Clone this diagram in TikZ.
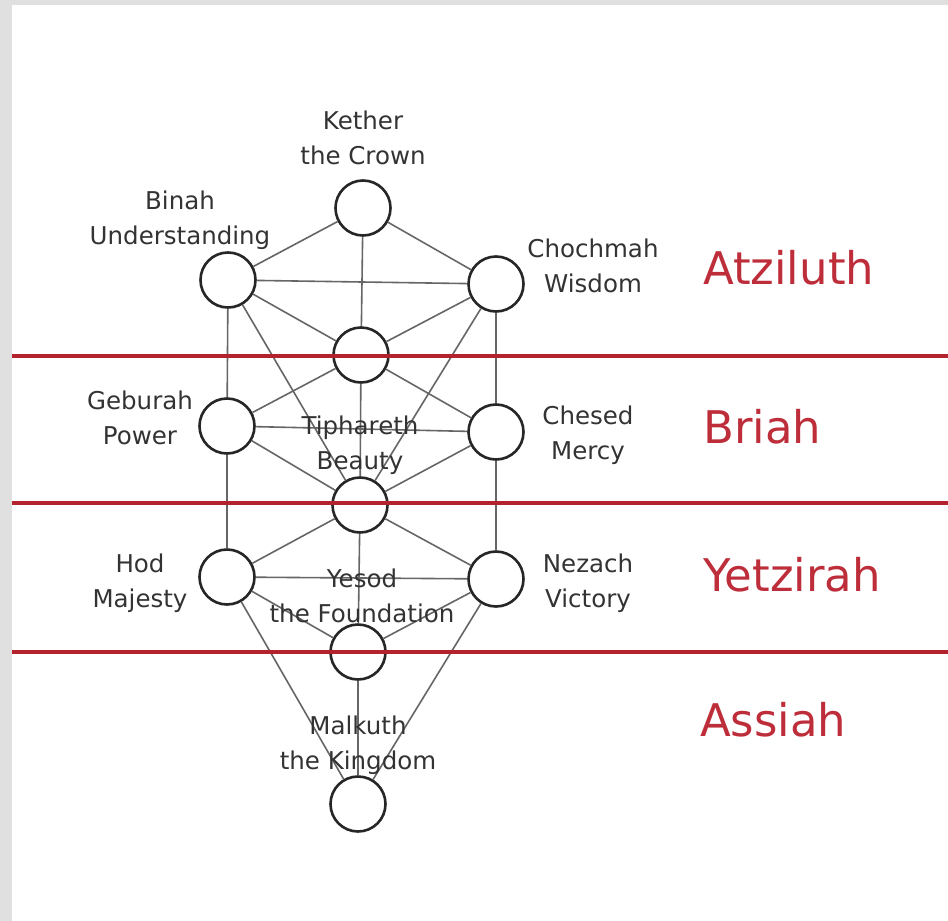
\documentclass[tikz,border=0pt]{standalone}
\usepackage{fontspec}
\setmainfont{DejaVu Sans}
\definecolor{sepred}{HTML}{B3232E}
\definecolor{worldred}{HTML}{BE2E3A}
\definecolor{conncol}{HTML}{666666}
\definecolor{txtcol}{HTML}{333333}
\begin{document}
\begin{tikzpicture}[x=1pt,y=-1pt,
  sef/.style={circle,draw=black!85,line width=2.6pt,fill=white,minimum size=55pt,inner sep=0pt},
  conn/.style={draw=conncol,line width=1.6pt},
  lbl/.style={text=txtcol,font=\fontsize{24.5}{35}\selectfont,align=center,inner sep=0pt},
  world/.style={text=worldred,font=\fontsize{45}{50}\selectfont,anchor=west,inner sep=0pt},
  sepline/.style={draw=sepred,line width=4.5pt}
]
\useasboundingbox (0,0) rectangle (948,921);
\fill[white] (0,0) rectangle (948,921);
\fill[black!12] (0,0) rectangle (12,921);
\fill[black!12] (0,0) rectangle (948,5);

\node[sef] (kether)    at (363,208) {};
\node[sef] (binah)     at (228,280) {};
\node[sef] (chochmah)  at (496,284) {};
\node[sef] (daath)     at (361,355) {};
\node[sef] (geburah)   at (227,426) {};
\node[sef] (chesed)    at (496,432) {};
\node[sef] (tiphareth) at (360,505) {};
\node[sef] (hod)       at (227,577) {};
\node[sef] (nezach)    at (496,579) {};
\node[sef] (yesod)     at (358,652) {};
\node[sef] (malkuth)   at (358,804) {};

\foreach \a/\b in {kether/binah,kether/chochmah,kether/daath,binah/chochmah,
  binah/daath,chochmah/daath,binah/geburah,chochmah/chesed,binah/tiphareth,
  chochmah/tiphareth,daath/geburah,daath/chesed,daath/tiphareth,geburah/chesed,
  geburah/tiphareth,chesed/tiphareth,geburah/hod,chesed/nezach,tiphareth/hod,
  tiphareth/nezach,tiphareth/yesod,hod/nezach,hod/yesod,nezach/yesod,
  hod/malkuth,nezach/malkuth,yesod/malkuth}
  \draw[conn] (\a) -- (\b);

\node[lbl] (lkether)    at (363,138) {Kether\\the Crown};
\node[lbl] (lbinah)     at (180,220) {Binah\\Understanding};
\node[lbl] (lchochmah)  at (593,266) {Chochmah\\Wisdom};
\node[lbl] (lgeburah)   at (140,418) {Geburah\\Power};
\node[lbl] (lchesed)    at (588,435) {Chesed\\Mercy};
\node[lbl] (ltiphareth) at (360,445) {Tiphareth\\Beauty};
\node[lbl] (lhod)       at (140,583) {Hod\\Majesty};
\node[lbl] (lnezach)    at (588,583) {Nezach\\Victory};
\node[lbl] (lyesod)     at (362,596) {Yesod\\the Foundation};
\node[lbl] (lmalkuth)   at (358,745) {Malkuth\\the Kingdom};

\node[world] (atz) at (703,268) {Atziluth};
\node[world] (bri) at (703,427) {Briah};
\node[world] (yet) at (703,575) {Yetzirah};
\node[world] (ass) at (700,720) {Assiah};

\coordinate (s1l) at (12,356); \coordinate (s1r) at (948,356);
\coordinate (s2l) at (12,503); \coordinate (s2r) at (948,503);
\coordinate (s3l) at (12,652); \coordinate (s3r) at (948,652);
\draw[sepline] (s1l) -- (s1r);
\draw[sepline] (s2l) -- (s2r);
\draw[sepline] (s3l) -- (s3r);
\end{tikzpicture}
\end{document}
